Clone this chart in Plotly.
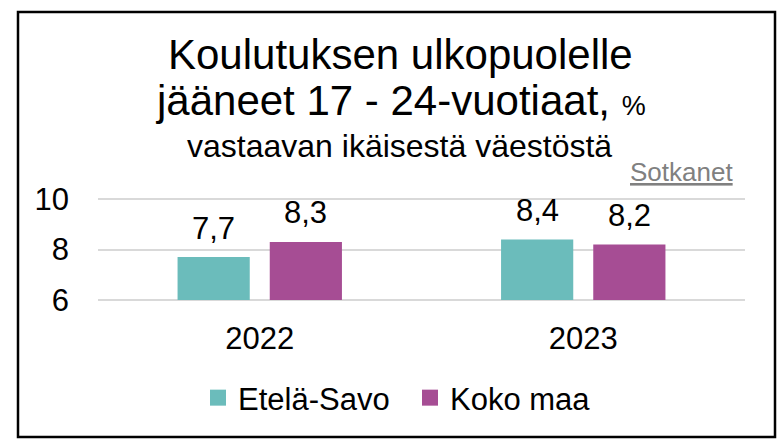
import plotly.graph_objects as go

years = ["2022", "2023"]
etela_savo = [7.7, 8.4]
koko_maa = [8.3, 8.2]
series_names = ["Etelä-Savo", "Koko maa"]
colors = ["#6BBCBB", "#A64D94"]
y_ticks = [6, 8, 10]

FONT = "Liberation Sans, Arial, sans-serif"
W, H = 782, 441
ML, MR, MT, MB = 98, 37, 198, 140
PW, PH = W - ML - MR, H - MT - MB


def px_x(px):
    return (px - ML) / PW


def px_y(py):
    return (H - MB - py) / PH


fig = go.Figure()
for name, vals, col in zip(series_names, [etela_savo, koko_maa], colors):
    fig.add_trace(go.Bar(x=years, y=[v - 6 for v in vals], base=6, name=name,
                         marker=dict(color=col, line=dict(width=0)),
                         showlegend=False, hoverinfo="skip"))
for name, col in zip(series_names, colors):
    fig.add_trace(go.Scatter(x=[years[0]], y=[None], mode="markers", name=name,
                             marker=dict(symbol="square", size=17, color=col), hoverinfo="skip"))

annotations = []
for j, vals in enumerate([etela_savo, koko_maa]):
    for i, v in enumerate(vals):
        annotations.append(dict(x=i, y=v, xref="x", yref="y",
                                text=f"{v:.1f}".replace(".", ","),
                                showarrow=False, xshift=(j - 0.5) * 92,
                                yshift=29, yanchor="middle",
                                font=dict(size=31, color="#000000", family=FONT)))

annotations += [
    dict(text="Koulutuksen ulkopuolelle", x=px_x(400), y=px_y(54), xref="paper", yref="paper",
         showarrow=False, xanchor="center", yanchor="middle",
         font=dict(size=42, color="#000000", family=FONT)),
    dict(text="jääneet 17 - 24-vuotiaat, <span style='font-size:27px'>%</span>",
         x=px_x(400), y=px_y(100), xref="paper", yref="paper",
         showarrow=False, xanchor="center", yanchor="middle",
         font=dict(size=42, color="#000000", family=FONT)),
    dict(text="vastaavan ikäisestä väestöstä", x=px_x(399), y=px_y(146), xref="paper", yref="paper",
         showarrow=False, xanchor="center", yanchor="middle",
         font=dict(size=32, color="#000000", family=FONT)),
    dict(text="<u>Sotkanet</u>", x=px_x(735), y=px_y(172), xref="paper", yref="paper",
         showarrow=False, xanchor="right", yanchor="middle",
         font=dict(size=26, color="#808080", family=FONT)),
]

fig.update_layout(
    width=W, height=H,
    margin=dict(l=ML, r=MR, t=MT, b=MB, pad=0),
    paper_bgcolor="white", plot_bgcolor="white",
    barmode="group", bargap=0.43, bargroupgap=0.217,
    font=dict(family=FONT, size=31, color="#000000"),
    showlegend=True,
    legend=dict(orientation="h", x=px_x(198), xanchor="left", y=px_y(398), yanchor="middle",
                font=dict(size=31, color="#000000", family=FONT), itemsizing="trace",
                entrywidth=167, entrywidthmode="pixels",
                bgcolor="rgba(0,0,0,0)"),
    annotations=annotations,
    shapes=[dict(type="rect", xref="paper", yref="paper",
                 x0=px_x(18), x1=px_x(775), y0=px_y(437), y1=px_y(12),
                 line=dict(color="#000000", width=2.5), layer="above")],
)
fig.update_xaxes(type="category", range=[-0.5, 1.5], showgrid=False, showline=False, zeroline=False,
                 ticks="", tickfont=dict(size=31, color="#000000", family=FONT), ticklabelstandoff=16)
fig.update_yaxes(range=[5.96, 10.04], tickvals=y_ticks, showgrid=True, gridcolor="#D9D9D9", gridwidth=1.5,
                 zeroline=False, showline=False, ticks="",
                 tickfont=dict(size=31, color="#000000", family=FONT), ticklabelstandoff=28)

fig.write_html("out.html", config={"displayModeBar": False},
               post_script="document.body.style.margin='0';document.body.style.overflow='hidden';")
